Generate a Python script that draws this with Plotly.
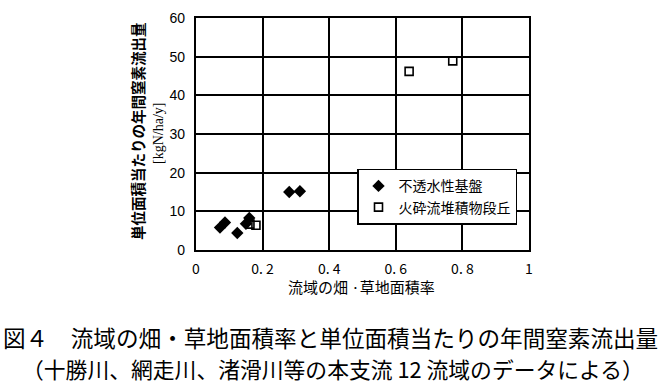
import plotly.graph_objects as go

# 流域の畑・草地面積率 (x) と年間窒素流出量 kgN/ha/y (y)
impermeable_x = [0.072, 0.087, 0.124, 0.150, 0.160, 0.280, 0.312]
impermeable_y = [5.8, 7.1, 4.4, 6.8, 8.3, 15.0, 15.2]
pyroclastic_x = [0.162, 0.180, 0.640, 0.771]
pyroclastic_y = [6.7, 6.4, 46.2, 48.9]

x_ticks = [0, 0.2, 0.4, 0.6, 0.8, 1.0]
x_tick_text = ["0", "0. 2", "0. 4", "0. 6", "0. 8", "1"]
y_ticks = [0, 10, 20, 30, 40, 50, 60]

SANS = "Liberation Sans, Arial, sans-serif"
CJK = "Noto Sans CJK JP, sans-serif"
SERIF = "Liberation Serif, serif"

fig = go.Figure()
fig.add_trace(go.Scatter(
    x=impermeable_x, y=impermeable_y, mode="markers", name="不透水性基盤",
    marker=dict(symbol="diamond", size=9.5, color="black", line=dict(width=0)),
))
fig.add_trace(go.Scatter(
    x=pyroclastic_x, y=pyroclastic_y, mode="markers", name="火砕流堆積物段丘",
    marker=dict(symbol="square-open", size=8, color="black", line=dict(width=1.6)),
))

axis_common = dict(
    showgrid=True, gridcolor="black", gridwidth=1.6,
    showline=True, linecolor="black", linewidth=2.2, mirror=True,
    zeroline=False, ticks="", fixedrange=True,
)
fig.update_xaxes(range=[0, 1], tickvals=x_ticks, ticktext=x_tick_text,
                 tickfont=dict(family=CJK, size=14, color="black"),
                 ticklabelstandoff=5, **axis_common)
fig.update_yaxes(range=[0, 60], tickvals=y_ticks,
                 tickfont=dict(family=SANS, size=14, color="black"),
                 ticklabelstandoff=6, **axis_common)

annotations = [
    dict(text="<b>単位面積当たりの年間窒素流出量</b>", x=137, y=127, textangle=-90,
         font=dict(family=CJK, size=14.5, color="black")),
    dict(text="[kgN/ha/y]", x=158, y=130, textangle=-90,
         font=dict(family=SERIF, size=14, color="black")),
    dict(text="流域の畑 ·草地面積率", x=361, y=288,
         font=dict(family=CJK, size=15, color="black")),
    dict(text="図４　流域の畑・草地面積率と単位面積当たりの年間窒素流出量", x=330, y=341,
         font=dict(family=CJK, size=22.6, color="black")),
    dict(text="（十勝川、網走川、渚滑川等の本支流 12 流域のデータによる）", x=333, y=373,
         font=dict(family=CJK, size=21.8, color="black")),
]
W, H = 661, 386
for a in annotations:
    a.update(xref="paper", yref="paper", showarrow=False,
             xanchor="center", yanchor="middle")
    # convert pixel positions to paper fractions of the plot area
    px, py = a["x"], a["y"]
    a["x"] = (px - 196) / (529 - 196)
    a["y"] = 1 - (py - 10) / (250 - 10)

fig.update_layout(
    width=W, height=H,
    margin=dict(l=196, r=W - 529, t=10, b=H - 250),
    paper_bgcolor="white", plot_bgcolor="white",
    showlegend=True,
    legend=dict(
        x=(357 - 196) / 333, y=1 - (166 - 10) / 240,
        xanchor="left", yanchor="top",
        bgcolor="white", bordercolor="black", borderwidth=1.5,
        font=dict(family=CJK, size=14, color="black"),
        itemwidth=30, tracegroupgap=0,
    ),
    annotations=annotations,
)

fig.write_html("out.html")
